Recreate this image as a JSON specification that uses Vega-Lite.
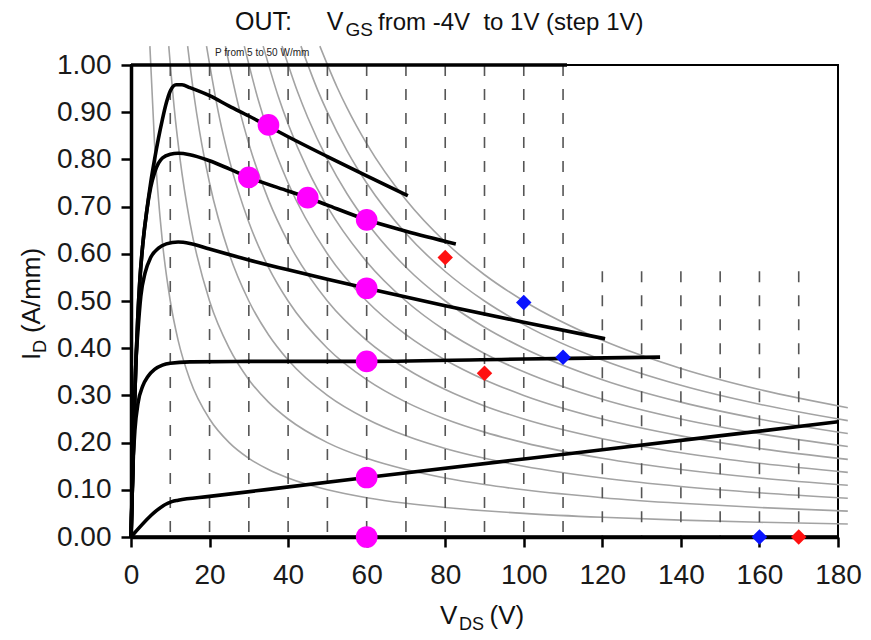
{
  "$schema": "https://vega.github.io/schema/vega-lite/v6.json",
  "width": 707,
  "height": 472,
  "autosize": "none",
  "padding": {"left": 131, "top": 65, "right": 33, "bottom": 103},
  "background": "white",
  "config": {
    "view": {"stroke": "black", "strokeWidth": 2},
    "font": "Liberation Sans"
  },
  "datasets": {
    "power": [
      {"p":5,"v":4.808,"i":1.04},{"p":5,"v":6,"i":0.8333},{"p":5,"v":8,"i":0.625},{"p":5,"v":10,"i":0.5},{"p":5,"v":12,"i":0.4167},{"p":5,"v":15,"i":0.3333},{"p":5,"v":20,"i":0.25},{"p":5,"v":25,"i":0.2},{"p":5,"v":30,"i":0.1667},{"p":5,"v":35,"i":0.1429},{"p":5,"v":40,"i":0.125},{"p":5,"v":50,"i":0.1},{"p":5,"v":60,"i":0.0833},{"p":5,"v":70,"i":0.0714},{"p":5,"v":80,"i":0.0625},{"p":5,"v":90,"i":0.0556},{"p":5,"v":100,"i":0.05},{"p":5,"v":120,"i":0.0417},{"p":5,"v":140,"i":0.0357},{"p":5,"v":160,"i":0.03125},{"p":5,"v":182.5,"i":0.0274},
      {"p":10,"v":9.615,"i":1.04},{"p":10,"v":11,"i":0.9091},{"p":10,"v":12.5,"i":0.8},{"p":10,"v":15,"i":0.6667},{"p":10,"v":20,"i":0.5},{"p":10,"v":25,"i":0.4},{"p":10,"v":30,"i":0.3333},{"p":10,"v":35,"i":0.2857},{"p":10,"v":40,"i":0.25},{"p":10,"v":50,"i":0.2},{"p":10,"v":60,"i":0.1667},{"p":10,"v":70,"i":0.1429},{"p":10,"v":80,"i":0.125},{"p":10,"v":90,"i":0.1111},{"p":10,"v":100,"i":0.1},{"p":10,"v":120,"i":0.0833},{"p":10,"v":140,"i":0.0714},{"p":10,"v":160,"i":0.0625},{"p":10,"v":182.5,"i":0.0548},
      {"p":15,"v":14.42,"i":1.04},{"p":15,"v":16,"i":0.9375},{"p":15,"v":17.5,"i":0.8571},{"p":15,"v":20,"i":0.75},{"p":15,"v":25,"i":0.6},{"p":15,"v":30,"i":0.5},{"p":15,"v":35,"i":0.4286},{"p":15,"v":40,"i":0.375},{"p":15,"v":50,"i":0.3},{"p":15,"v":60,"i":0.25},{"p":15,"v":70,"i":0.2143},{"p":15,"v":80,"i":0.1875},{"p":15,"v":90,"i":0.1667},{"p":15,"v":100,"i":0.15},{"p":15,"v":120,"i":0.125},{"p":15,"v":140,"i":0.1071},{"p":15,"v":160,"i":0.09375},{"p":15,"v":182.5,"i":0.0822},
      {"p":20,"v":19.23,"i":1.04},{"p":20,"v":22.5,"i":0.8889},{"p":20,"v":25,"i":0.8},{"p":20,"v":30,"i":0.6667},{"p":20,"v":35,"i":0.5714},{"p":20,"v":40,"i":0.5},{"p":20,"v":50,"i":0.4},{"p":20,"v":60,"i":0.3333},{"p":20,"v":70,"i":0.2857},{"p":20,"v":80,"i":0.25},{"p":20,"v":90,"i":0.2222},{"p":20,"v":100,"i":0.2},{"p":20,"v":120,"i":0.1667},{"p":20,"v":140,"i":0.1429},{"p":20,"v":160,"i":0.125},{"p":20,"v":182.5,"i":0.1096},
      {"p":25,"v":24.04,"i":1.04},{"p":25,"v":27.5,"i":0.9091},{"p":25,"v":30,"i":0.8333},{"p":25,"v":35,"i":0.7143},{"p":25,"v":40,"i":0.625},{"p":25,"v":50,"i":0.5},{"p":25,"v":60,"i":0.4167},{"p":25,"v":70,"i":0.3571},{"p":25,"v":80,"i":0.3125},{"p":25,"v":90,"i":0.2778},{"p":25,"v":100,"i":0.25},{"p":25,"v":120,"i":0.2083},{"p":25,"v":140,"i":0.1786},{"p":25,"v":160,"i":0.15625},{"p":25,"v":182.5,"i":0.137},
      {"p":30,"v":28.85,"i":1.04},{"p":30,"v":32.5,"i":0.9231},{"p":30,"v":35,"i":0.8571},{"p":30,"v":40,"i":0.75},{"p":30,"v":50,"i":0.6},{"p":30,"v":60,"i":0.5},{"p":30,"v":70,"i":0.4286},{"p":30,"v":80,"i":0.375},{"p":30,"v":90,"i":0.3333},{"p":30,"v":100,"i":0.3},{"p":30,"v":120,"i":0.25},{"p":30,"v":140,"i":0.2143},{"p":30,"v":160,"i":0.1875},{"p":30,"v":182.5,"i":0.1644},
      {"p":35,"v":33.65,"i":1.04},{"p":35,"v":37.5,"i":0.9333},{"p":35,"v":40,"i":0.875},{"p":35,"v":45,"i":0.7778},{"p":35,"v":50,"i":0.7},{"p":35,"v":60,"i":0.5833},{"p":35,"v":70,"i":0.5},{"p":35,"v":80,"i":0.4375},{"p":35,"v":90,"i":0.3889},{"p":35,"v":100,"i":0.35},{"p":35,"v":120,"i":0.2917},{"p":35,"v":140,"i":0.25},{"p":35,"v":160,"i":0.21875},{"p":35,"v":182.5,"i":0.1918},
      {"p":40,"v":38.46,"i":1.04},{"p":40,"v":42.5,"i":0.9412},{"p":40,"v":45,"i":0.8889},{"p":40,"v":50,"i":0.8},{"p":40,"v":55,"i":0.7273},{"p":40,"v":60,"i":0.6667},{"p":40,"v":70,"i":0.5714},{"p":40,"v":80,"i":0.5},{"p":40,"v":90,"i":0.4444},{"p":40,"v":100,"i":0.4},{"p":40,"v":120,"i":0.3333},{"p":40,"v":140,"i":0.2857},{"p":40,"v":160,"i":0.25},{"p":40,"v":182.5,"i":0.2192},
      {"p":45,"v":43.27,"i":1.04},{"p":45,"v":47.5,"i":0.9474},{"p":45,"v":50,"i":0.9},{"p":45,"v":55,"i":0.8182},{"p":45,"v":60,"i":0.75},{"p":45,"v":70,"i":0.6429},{"p":45,"v":80,"i":0.5625},{"p":45,"v":90,"i":0.5},{"p":45,"v":100,"i":0.45},{"p":45,"v":120,"i":0.375},{"p":45,"v":140,"i":0.3214},{"p":45,"v":160,"i":0.28125},{"p":45,"v":182.5,"i":0.2466},
      {"p":50,"v":48.08,"i":1.04},{"p":50,"v":52.5,"i":0.9524},{"p":50,"v":55,"i":0.9091},{"p":50,"v":60,"i":0.8333},{"p":50,"v":70,"i":0.7143},{"p":50,"v":80,"i":0.625},{"p":50,"v":90,"i":0.5556},{"p":50,"v":100,"i":0.5},{"p":50,"v":120,"i":0.4167},{"p":50,"v":140,"i":0.3571},{"p":50,"v":160,"i":0.3125},{"p":50,"v":182.5,"i":0.274}
    ],
    "grid": [
      {"v":10,"top":1},{"v":20,"top":1},{"v":30,"top":1},{"v":40,"top":1},{"v":50,"top":1},{"v":60,"top":1},{"v":70,"top":1},{"v":80,"top":1},{"v":90,"top":1},{"v":100,"top":1},{"v":110,"top":1},
      {"v":120,"top":0.563},{"v":130,"top":0.563},{"v":140,"top":0.563},{"v":150,"top":0.563},{"v":160,"top":0.563},{"v":170,"top":0.563}
    ],
    "iv": [
      {"vgs":"1V","v":0,"i":0},{"vgs":"1V","v":0.4,"i":0.12},{"vgs":"1V","v":0.8,"i":0.25},{"vgs":"1V","v":1.2,"i":0.36},{"vgs":"1V","v":1.7,"i":0.46},{"vgs":"1V","v":2.3,"i":0.55},{"vgs":"1V","v":3,"i":0.62},{"vgs":"1V","v":4,"i":0.69},{"vgs":"1V","v":5,"i":0.75},{"vgs":"1V","v":6,"i":0.8},{"vgs":"1V","v":7,"i":0.845},{"vgs":"1V","v":8,"i":0.885},{"vgs":"1V","v":9,"i":0.92},{"vgs":"1V","v":10,"i":0.945},{"vgs":"1V","v":11.5,"i":0.958},{"vgs":"1V","v":13,"i":0.958},{"vgs":"1V","v":15,"i":0.952},{"vgs":"1V","v":20,"i":0.935},{"vgs":"1V","v":25,"i":0.913},{"vgs":"1V","v":30,"i":0.892},{"vgs":"1V","v":35,"i":0.87},{"vgs":"1V","v":40,"i":0.848},{"vgs":"1V","v":50,"i":0.806},{"vgs":"1V","v":60,"i":0.765},{"vgs":"1V","v":70.5,"i":0.723},
      {"vgs":"0V","v":0,"i":0},{"vgs":"0V","v":0.4,"i":0.12},{"vgs":"0V","v":0.8,"i":0.25},{"vgs":"0V","v":1.2,"i":0.36},{"vgs":"0V","v":1.7,"i":0.46},{"vgs":"0V","v":2.3,"i":0.55},{"vgs":"0V","v":3,"i":0.62},{"vgs":"0V","v":4,"i":0.69},{"vgs":"0V","v":5,"i":0.74},{"vgs":"0V","v":6,"i":0.772},{"vgs":"0V","v":7,"i":0.792},{"vgs":"0V","v":8,"i":0.803},{"vgs":"0V","v":10,"i":0.811},{"vgs":"0V","v":12,"i":0.813},{"vgs":"0V","v":15,"i":0.81},{"vgs":"0V","v":20,"i":0.797},{"vgs":"0V","v":25,"i":0.78},{"vgs":"0V","v":30,"i":0.762},{"vgs":"0V","v":40,"i":0.733},{"vgs":"0V","v":45,"i":0.719},{"vgs":"0V","v":50,"i":0.703},{"vgs":"0V","v":60,"i":0.672},{"vgs":"0V","v":70,"i":0.648},{"vgs":"0V","v":82.7,"i":0.621},
      {"vgs":"-1V","v":0,"i":0},{"vgs":"-1V","v":0.4,"i":0.12},{"vgs":"-1V","v":0.8,"i":0.25},{"vgs":"-1V","v":1.2,"i":0.36},{"vgs":"-1V","v":1.8,"i":0.44},{"vgs":"-1V","v":2.5,"i":0.51},{"vgs":"-1V","v":3.6,"i":0.56},{"vgs":"-1V","v":5,"i":0.592},{"vgs":"-1V","v":7,"i":0.612},{"vgs":"-1V","v":9,"i":0.621},{"vgs":"-1V","v":12,"i":0.625},{"vgs":"-1V","v":15,"i":0.622},{"vgs":"-1V","v":20,"i":0.61},{"vgs":"-1V","v":30,"i":0.587},{"vgs":"-1V","v":40,"i":0.566},{"vgs":"-1V","v":50,"i":0.546},{"vgs":"-1V","v":60,"i":0.527},{"vgs":"-1V","v":80,"i":0.49},{"vgs":"-1V","v":100,"i":0.455},{"vgs":"-1V","v":120.7,"i":0.42},
      {"vgs":"-2V","v":0,"i":0},{"vgs":"-2V","v":0.3,"i":0.1},{"vgs":"-2V","v":0.6,"i":0.17},{"vgs":"-2V","v":1,"i":0.227},{"vgs":"-2V","v":1.8,"i":0.284},{"vgs":"-2V","v":3,"i":0.32},{"vgs":"-2V","v":4.3,"i":0.34},{"vgs":"-2V","v":6,"i":0.355},{"vgs":"-2V","v":8,"i":0.364},{"vgs":"-2V","v":10,"i":0.368},{"vgs":"-2V","v":15,"i":0.371},{"vgs":"-2V","v":30,"i":0.372},{"vgs":"-2V","v":60,"i":0.372},{"vgs":"-2V","v":100,"i":0.377},{"vgs":"-2V","v":134.7,"i":0.381},
      {"vgs":"-3V","v":0,"i":0},{"vgs":"-3V","v":10.4,"i":0.075},{"vgs":"-3V","v":12,"i":0.078},{"vgs":"-3V","v":20,"i":0.086},{"vgs":"-3V","v":60,"i":0.126},{"vgs":"-3V","v":120,"i":0.185},{"vgs":"-3V","v":180,"i":0.244},
      {"vgs":"-4V","v":0,"i":0},{"vgs":"-4V","v":180,"i":0}
    ],
    "bias": [
      {"v":35,"i":0.873},{"v":30,"i":0.762},{"v":45,"i":0.719},{"v":60,"i":0.672},{"v":60,"i":0.527},{"v":60,"i":0.372},{"v":60,"i":0.126},{"v":60,"i":0.0}
    ],
    "marks": [
      {"set":"A","v":80,"i":0.592},{"set":"A","v":90,"i":0.347},{"set":"A","v":170,"i":0.0},
      {"set":"B","v":100,"i":0.497},{"set":"B","v":110,"i":0.381},{"set":"B","v":160,"i":0.0}
    ],
    "one": [{}]
  },
  "layer": [
    {
      "data": {"name": "power"},
      "mark": {"type": "line", "color": "#a3a3a3", "strokeWidth": 1.6, "interpolate": "monotone"},
      "encoding": {
        "x": {"field": "v", "type": "quantitative", "scale": {"domain": [0, 180], "nice": false, "zero": false},
          "axis": {"title": null, "values": [0,20,40,60,80,100,120,140,160,180], "format": "d", "grid": false, "labelFlush": false,
            "labelFont": "Liberation Sans", "labelFontSize": 28, "labelColor": "#1a1a1a", "labelPadding": 14,
            "tickSize": 10, "tickWidth": 2.5, "tickColor": "black", "domainColor": "black", "domainWidth": 3.5}},
        "y": {"field": "i", "type": "quantitative", "scale": {"domain": [0, 1], "nice": false, "zero": false},
          "axis": {"title": null, "values": [0,0.1,0.2,0.3,0.4,0.5,0.6,0.7,0.8,0.9,1.0], "format": ".2f", "grid": false, "labelFlush": false,
            "labelFont": "Liberation Sans", "labelFontSize": 28, "labelColor": "#1a1a1a", "labelPadding": 10,
            "tickSize": 10, "tickWidth": 2.5, "tickColor": "black", "domainColor": "black", "domainWidth": 3.5}},
        "detail": {"field": "p", "type": "nominal"}
      }
    },
    {
      "data": {"name": "grid"},
      "mark": {"type": "rule", "color": "#555555", "strokeWidth": 1.6, "strokeDash": [11, 13]},
      "encoding": {
        "x": {"field": "v", "type": "quantitative"},
        "y": {"field": "top", "type": "quantitative"},
        "y2": {"datum": 0}
      }
    },
    {
      "data": {"name": "one"},
      "mark": {"type": "rule", "color": "black", "strokeWidth": 3.5},
      "encoding": {
        "x": {"datum": 0, "type": "quantitative"},
        "x2": {"datum": 111},
        "y": {"datum": 1, "type": "quantitative"}
      }
    },
    {
      "data": {"name": "iv"},
      "mark": {"type": "line", "color": "black", "strokeWidth": 3.6, "interpolate": "monotone"},
      "encoding": {
        "x": {"field": "v", "type": "quantitative"},
        "y": {"field": "i", "type": "quantitative"},
        "detail": {"field": "vgs", "type": "nominal"}
      }
    },
    {
      "data": {"name": "bias"},
      "mark": {"type": "point", "shape": "circle", "filled": true, "color": "#ff00ff", "size": 470, "opacity": 1},
      "encoding": {
        "x": {"field": "v", "type": "quantitative"},
        "y": {"field": "i", "type": "quantitative"}
      }
    },
    {
      "data": {"name": "marks"},
      "mark": {"type": "point", "shape": "diamond", "filled": true, "size": 240, "opacity": 1},
      "encoding": {
        "x": {"field": "v", "type": "quantitative"},
        "y": {"field": "i", "type": "quantitative"},
        "color": {"field": "set", "type": "nominal", "scale": {"domain": ["A", "B"], "range": ["#ff1010", "#0a14ff"]}, "legend": null}
      }
    },
    {
      "data": {"name": "one"},
      "mark": {"type": "text", "font": "Liberation Sans", "fontSize": 10, "color": "#222", "align": "center", "baseline": "middle"},
      "encoding": {"x": {"datum": 33.4, "type": "quantitative"}, "y": {"datum": 1.025, "type": "quantitative"}, "text": {"value": "P from 5 to 50 W/mm"}}
    },
    {
      "data": {"name": "one"},
      "mark": {"type": "text", "font": "Liberation Sans", "fontSize": 25, "color": "#111", "align": "left", "baseline": "alphabetic"},
      "encoding": {"x": {"datum": 26.5, "type": "quantitative"}, "y": {"datum": 1.074, "type": "quantitative"}, "text": {"value": "OUT:\u00a0\u00a0\u00a0\u00a0\u00a0V"}}
    },
    {
      "data": {"name": "one"},
      "mark": {"type": "text", "font": "Liberation Sans", "fontSize": 19, "color": "#111", "align": "left", "baseline": "alphabetic"},
      "encoding": {"x": {"datum": 54.6, "type": "quantitative"}, "y": {"datum": 1.061, "type": "quantitative"}, "text": {"value": "GS"}}
    },
    {
      "data": {"name": "one"},
      "mark": {"type": "text", "font": "Liberation Sans", "fontSize": 24, "color": "#111", "align": "left", "baseline": "alphabetic"},
      "encoding": {"x": {"datum": 62.9, "type": "quantitative"}, "y": {"datum": 1.074, "type": "quantitative"}, "text": {"value": "from -4V\u00a0\u00a0to 1V (step 1V)"}}
    },
    {
      "data": {"name": "one"},
      "mark": {"type": "text", "font": "Liberation Sans", "fontSize": 26, "color": "#111", "align": "left", "baseline": "alphabetic"},
      "encoding": {"x": {"datum": 78.7, "type": "quantitative"}, "y": {"datum": -0.184, "type": "quantitative"}, "text": {"value": "V"}}
    },
    {
      "data": {"name": "one"},
      "mark": {"type": "text", "font": "Liberation Sans", "fontSize": 18, "color": "#111", "align": "left", "baseline": "alphabetic"},
      "encoding": {"x": {"datum": 83.5, "type": "quantitative"}, "y": {"datum": -0.197, "type": "quantitative"}, "text": {"value": "DS"}}
    },
    {
      "data": {"name": "one"},
      "mark": {"type": "text", "font": "Liberation Sans", "fontSize": 26, "color": "#111", "align": "left", "baseline": "alphabetic"},
      "encoding": {"x": {"datum": 91.3, "type": "quantitative"}, "y": {"datum": -0.184, "type": "quantitative"}, "text": {"value": "(V)"}}
    },
    {
      "data": {"name": "one"},
      "mark": {"type": "text", "font": "Liberation Sans", "fontSize": 26, "color": "#111", "align": "left", "baseline": "alphabetic", "angle": 270},
      "encoding": {"x": {"datum": -23.2, "type": "quantitative"}, "y": {"datum": 0.375, "type": "quantitative"}, "text": {"value": "I"}}
    },
    {
      "data": {"name": "one"},
      "mark": {"type": "text", "font": "Liberation Sans", "fontSize": 18, "color": "#111", "align": "left", "baseline": "alphabetic", "angle": 270},
      "encoding": {"x": {"datum": -21.7, "type": "quantitative"}, "y": {"datum": 0.39, "type": "quantitative"}, "text": {"value": "D"}}
    },
    {
      "data": {"name": "one"},
      "mark": {"type": "text", "font": "Liberation Sans", "fontSize": 26, "color": "#111", "align": "left", "baseline": "alphabetic", "angle": 270},
      "encoding": {"x": {"datum": -23.2, "type": "quantitative"}, "y": {"datum": 0.432, "type": "quantitative"}, "text": {"value": "(A/mm)"}}
    }
  ]
}
